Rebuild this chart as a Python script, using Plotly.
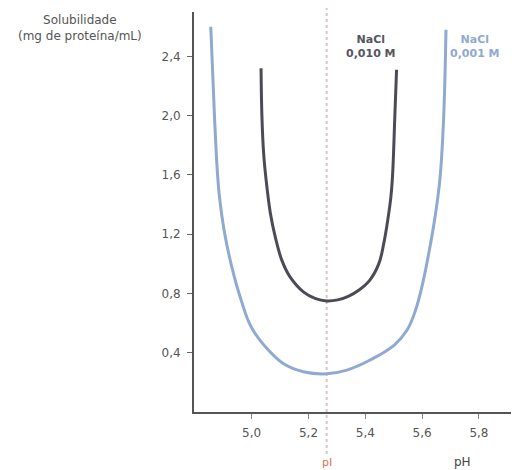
import plotly.graph_objects as go

# NaCl 0,010 M
dark_ph = [5.033, 5.036, 5.042, 5.051, 5.066, 5.083, 5.106, 5.135, 5.182, 5.225,
           5.264, 5.303, 5.340, 5.378, 5.416, 5.448, 5.465, 5.479, 5.490, 5.496,
           5.504, 5.510]
dark_sol = [2.32, 2.0, 1.75, 1.564, 1.34, 1.182, 1.025, 0.912, 0.811, 0.765,
            0.750, 0.757, 0.780, 0.823, 0.890, 1.003, 1.138, 1.295, 1.452, 1.6,
            2.0, 2.31]

# NaCl 0,001 M
blue_ph = [4.856, 4.869, 4.880, 4.888, 4.905, 4.930, 4.963, 4.998, 5.053, 5.111,
           5.182, 5.264, 5.335, 5.417, 5.502, 5.547, 5.577, 5.602, 5.621, 5.640,
           5.654, 5.664, 5.676, 5.684]
blue_sol = [2.60, 2.0, 1.60, 1.43, 1.205, 0.98, 0.755, 0.575, 0.43, 0.328,
            0.272, 0.258, 0.283, 0.351, 0.452, 0.553, 0.688, 0.868, 1.047, 1.25,
            1.43, 1.6, 2.0, 2.58]

x_ticks = [5.0, 5.2, 5.4, 5.6, 5.8]
x_tick_labels = ["5,0", "5,2", "5,4", "5,6", "5,8"]
y_ticks = [0.4, 0.8, 1.2, 1.6, 2.0, 2.4]
y_tick_labels = ["0,4", "0,8", "1,2", "1,6", "2,0", "2,4"]
pI = 5.264

FONT = "DejaVu Sans, Verdana, sans-serif"
DARK = "#4b4b57"
BLUE = "#8fa9d0"

fig = go.Figure()
fig.add_trace(go.Scatter(x=blue_ph, y=blue_sol, mode="lines",
                         line=dict(color=BLUE, width=3, shape="spline", smoothing=1.1),
                         hoverinfo="skip"))
fig.add_trace(go.Scatter(x=dark_ph, y=dark_sol, mode="lines",
                         line=dict(color=DARK, width=3, shape="spline", smoothing=1.1),
                         hoverinfo="skip"))

fig.add_shape(type="line", xref="x", yref="paper", x0=pI, x1=pI, y0=-0.105, y1=1.02,
              line=dict(color="#d8c6c6", width=2, dash="dot"), layer="below")

fig.add_annotation(x=pI, y=-0.125, xref="x", yref="paper", text="pI", showarrow=False,
                   xanchor="center", yanchor="middle",
                   font=dict(family=FONT, size=11, color="#e0704a"))
fig.add_annotation(x=5.742, y=-0.125, xref="x", yref="paper", text="pH", showarrow=False,
                   xanchor="center", yanchor="middle",
                   font=dict(family=FONT, size=12, color="#444444"))
fig.add_annotation(x=-0.351, y=0.96, xref="paper", yref="paper",
                   text="Solubilidade<br>(mg de proteína/mL)", showarrow=False,
                   xanchor="center", yanchor="middle",
                   font=dict(family=FONT, size=12, color="#555555"), align="center")
fig.add_annotation(x=5.42, y=2.468, xref="x", yref="y",
                   text="<b>NaCl<br>0,010 M</b>", showarrow=False,
                   xanchor="center", yanchor="middle",
                   font=dict(family=FONT, size=11, color="#555560"), align="center")
fig.add_annotation(x=5.786, y=2.468, xref="x", yref="y",
                   text="<b>NaCl<br>0,001 M</b>", showarrow=False,
                   xanchor="center", yanchor="middle",
                   font=dict(family=FONT, size=11, color=BLUE), align="center")

# page body has an 8px margin; compensate so the plot area lands where the reference has it
fig.update_layout(
    width=511, height=462,
    margin=dict(l=186, r=0, t=4, b=58),
    plot_bgcolor="white", paper_bgcolor="white",
    showlegend=False,
    xaxis=dict(range=[4.797, 5.941], tickvals=x_ticks, ticktext=x_tick_labels,
               showgrid=False, zeroline=False, showline=True, linecolor="#555555",
               linewidth=2, ticks="outside", ticklen=5, tickcolor="#888888",
               ticklabelstandoff=4,
               tickfont=dict(family=FONT, size=12, color="#555555")),
    yaxis=dict(range=[0.0, 2.70], tickvals=y_ticks, ticktext=y_tick_labels,
               showgrid=False, zeroline=False, showline=True, linecolor="#555555",
               linewidth=2, ticks="outside", ticklen=5, tickcolor="#666666",
               ticklabelstandoff=4,
               tickfont=dict(family=FONT, size=12, color="#555555")),
)

fig.write_html("out.html")
